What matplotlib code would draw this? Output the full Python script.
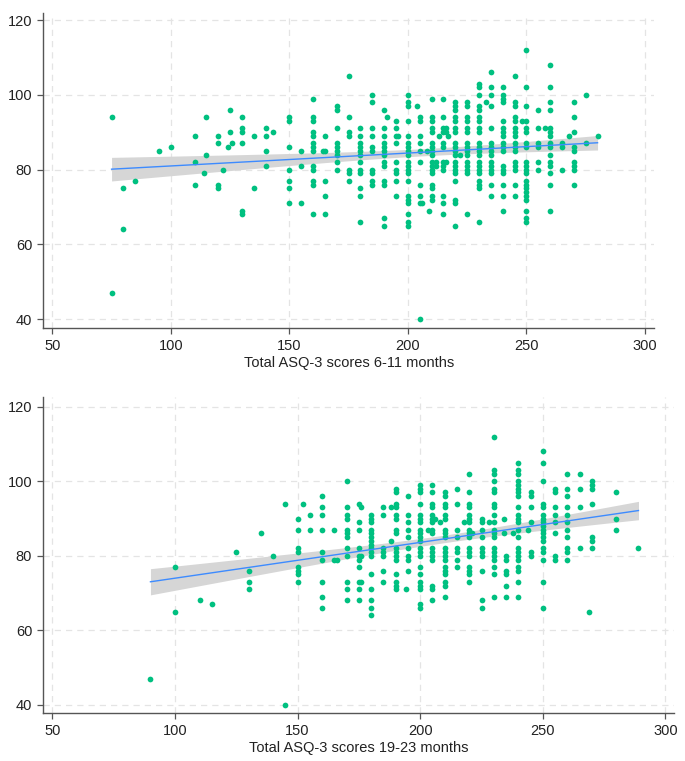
import numpy as np
import matplotlib
matplotlib.use('Agg')
import matplotlib.pyplot as plt

plt.rcParams['font.family'] = ['Liberation Sans', 'DejaVu Sans']

# ---- 6-11 months: ASQ-3 score columns and the outcome values at each ----
top_x = [75, 80, 85, 95, 100, 110, 114, 115, 120, 122, 124, 125, 126, 130, 135,
         140, 143, 150, 155, 160, 164, 165, 170, 175, 180, 185, 190, 191, 195,
         196, 200, 204, 205, 206, 208, 209, 210, 212, 213, 215, 216, 217, 220,
         222, 225, 230, 233, 235, 240, 245, 248, 250, 255, 258, 260, 265, 268,
         270, 275, 280]
top_y = [
    [94, 47], [75, 64], [77], [85], [86], [89, 82, 76], [79], [94, 84],
    [89, 87, 76, 75], [80], [86], [96, 90], [87], [94, 91, 90, 87, 69, 68],
    [89, 75], [91, 89, 85, 81], [90], [94, 93, 86, 80, 77, 75, 71],
    [85, 81, 71], [99, 94, 93, 90, 89, 87, 86, 85, 81, 80, 77, 76, 68],
    [85], [89, 85, 77, 73, 68], [97, 96, 91, 87, 86, 85, 84, 82, 80],
    [105, 94, 90, 89, 80, 79, 77],
    [91, 89, 87, 86, 85, 84, 82, 80, 79, 75, 73, 66],
    [100, 98, 91, 89, 86, 85, 80, 79, 77, 76],
    [96, 91, 89, 87, 86, 85, 84, 82, 81, 77, 76, 67, 65], [94],
    [93, 91, 89, 87, 82, 80, 79, 77, 73], [89],
    [100, 98, 97, 93, 89, 87, 86, 85, 84, 82, 81, 80, 79, 77, 73, 72, 71, 68,
     66, 65],
    [97], [94, 93, 89, 87, 85, 82, 76, 73, 71, 40], [71], [85], [69],
    [99, 94, 93, 91, 90, 87, 86, 85, 84, 82, 81, 80, 79, 76, 75, 73, 72],
    [82, 81], [89], [99, 94, 91, 90, 87, 86, 82, 81, 80, 73, 71, 68],
    [91, 90, 82], [89],
    [98, 97, 96, 94, 93, 91, 90, 87, 86, 85, 84, 82, 81, 80, 79, 77, 72, 71,
     65],
    [84],
    [98, 97, 94, 93, 91, 90, 87, 86, 85, 84, 82, 81, 80, 79, 68],
    [103, 102, 100, 97, 96, 94, 93, 91, 90, 87, 86, 85, 84, 82, 81, 80, 79,
     77, 76, 75, 66],
    [98],
    [106, 102, 100, 97, 91, 87, 86, 85, 84, 82, 81, 80, 79, 76, 73],
    [102, 100, 99, 98, 93, 91, 90, 89, 87, 86, 85, 81, 80, 79, 76, 73, 69],
    [105, 98, 97, 94, 93, 91, 90, 89, 87, 86, 85, 82, 81, 80, 76, 73],
    [93],
    [112, 102, 97, 93, 91, 90, 87, 86, 82, 81, 80, 79, 77, 76, 75, 74, 73, 72,
     69, 67, 66],
    [96, 91, 87, 86, 82, 80], [91],
    [108, 102, 98, 96, 91, 90, 89, 87, 86, 84, 82, 81, 79, 76, 69],
    [87, 86, 80], [89], [98, 94, 90, 86, 85, 82, 81, 80, 76], [100, 87], [89],
]

# ---- 19-23 months ----
bot_x = [90, 100, 110, 115, 125, 130, 135, 140, 145, 150, 152, 155, 160, 165,
         166, 170, 175, 176, 180, 185, 188, 190, 194, 195, 200, 203, 205, 206,
         208, 210, 215, 218, 220, 221, 225, 228, 230, 234, 235, 238, 240, 244,
         245, 250, 255, 260, 265, 269, 270, 280, 289]
bot_y = [
    [47], [77, 65], [68], [67], [81], [76, 73, 71], [86], [80], [94, 40],
    [90, 87, 82, 81, 77, 76, 75, 73], [94], [91, 87],
    [96, 93, 91, 87, 81, 79, 73, 69, 66], [87, 79], [79],
    [100, 93, 91, 90, 87, 86, 85, 82, 80, 73, 71, 68],
    [94, 89, 87, 82, 80, 79, 77, 73, 71, 68], [93, 80, 73],
    [91, 90, 89, 87, 86, 85, 84, 83, 82, 81, 80, 75, 71, 68, 66, 64],
    [93, 91, 82, 81, 80, 76, 73], [93, 84],
    [98, 97, 94, 93, 91, 90, 87, 86, 82, 81, 80, 79, 75, 73, 72, 71], [71],
    [96, 91, 89, 87, 85, 82, 80, 79, 76],
    [99, 98, 97, 94, 91, 90, 89, 87, 86, 85, 84, 82, 81, 80, 77, 75, 73, 72,
     71, 67, 66],
    [87],
    [99, 97, 94, 93, 91, 90, 89, 87, 86, 82, 81, 80, 79, 72, 71, 68],
    [90], [89],
    [97, 96, 94, 93, 91, 90, 87, 86, 85, 82, 81, 80, 79, 77, 76, 75, 73, 72,
     69],
    [98, 94, 87, 85, 82, 81, 79, 77], [89],
    [102, 97, 94, 93, 91, 90, 89, 87, 86, 85, 82, 81, 80, 77, 76, 75, 73],
    [86],
    [90, 89, 87, 85, 82, 81, 80, 76, 68, 66], [89],
    [112, 103, 102, 100, 98, 97, 94, 93, 91, 89, 87, 86, 85, 82, 81, 80, 79,
     77, 75, 69],
    [90, 86], [80, 79, 76, 75, 72, 69], [86],
    [105, 103, 102, 100, 99, 98, 97, 96, 93, 91, 90, 89, 87, 85, 82, 81, 80,
     79, 77, 76, 73, 69],
    [87], [97, 96, 93, 89, 81, 80],
    [108, 105, 100, 94, 93, 91, 90, 89, 88, 87, 86, 85, 84, 82, 81, 79, 73,
     66],
    [98, 97, 93, 91, 89, 86, 80, 79],
    [102, 98, 96, 93, 91, 89, 87, 85, 82, 81, 79], [102, 98, 93, 82], [65],
    [100, 99, 98, 94, 85, 84, 82], [97, 90, 87], [82],
]

x_labels = ['Total ASQ-3 scores 6-11 months', 'Total ASQ-3 scores 19-23 months']

dot_color = '#00c080'
line_color = '#3d8bff'
band_color = '#d6d6d6'
grid_color = '#e4e4e4'
spine_color = '#555555'


def flatten(xs, cols):
    px, py = [], []
    for x, ys in zip(xs, cols):
        for y in ys:
            px.append(x)
            py.append(y)
    return np.array(px, float), np.array(py, float)


def draw_panel(ax, xs, cols, label, xlim, ylim):
    x, y = flatten(xs, cols)
    # linear fit with 95% confidence band
    b, a = np.polyfit(x, y, 1)
    n = len(x)
    resid = y - (a + b * x)
    s = np.sqrt(np.sum(resid ** 2) / (n - 2))
    xg = np.linspace(x.min(), x.max(), 100)
    se = s * np.sqrt(1.0 / n + (xg - x.mean()) ** 2 / np.sum((x - x.mean()) ** 2))
    fit = a + b * xg
    ax.fill_between(xg, fit - 1.97 * se, fit + 1.97 * se, color=band_color,
                    lw=0, zorder=2)
    ax.scatter(x, y, s=17, color=dot_color, lw=0, zorder=3)
    ax.plot(xg, fit, color=line_color, lw=1.0, zorder=4)

    ax.set_xlim(*xlim)
    ax.set_ylim(*ylim)
    ax.set_xticks([50, 100, 150, 200, 250, 300])
    ax.set_yticks([40, 60, 80, 100, 120])
    ax.grid(True, color=grid_color, ls=(0, (5, 4)), lw=0.9)
    ax.set_axisbelow(True)
    for side in ['top', 'right']:
        ax.spines[side].set_visible(False)
    for side in ['left', 'bottom']:
        ax.spines[side].set_color(spine_color)
        ax.spines[side].set_linewidth(1.0)
    ax.tick_params(colors=spine_color, labelcolor='#222222', labelsize=10.5,
                   length=4, width=0.9, pad=4)
    ax.set_xlabel(label, fontsize=10.5, color='#222222', labelpad=2)


fig = plt.figure(figsize=(6.85, 7.61), dpi=100)
ax1 = fig.add_axes([0.0632, 0.5694, 0.8915, 0.4135])
ax2 = fig.add_axes([0.0632, 0.0635, 0.9208, 0.4148])

draw_panel(ax1, top_x, top_y, x_labels[0], (46.2, 303.8), (37.7, 121.9))
draw_panel(ax2, bot_x, bot_y, x_labels[1], (46.3, 303.5), (37.9, 122.6))

fig.savefig('out.png', dpi=100)
